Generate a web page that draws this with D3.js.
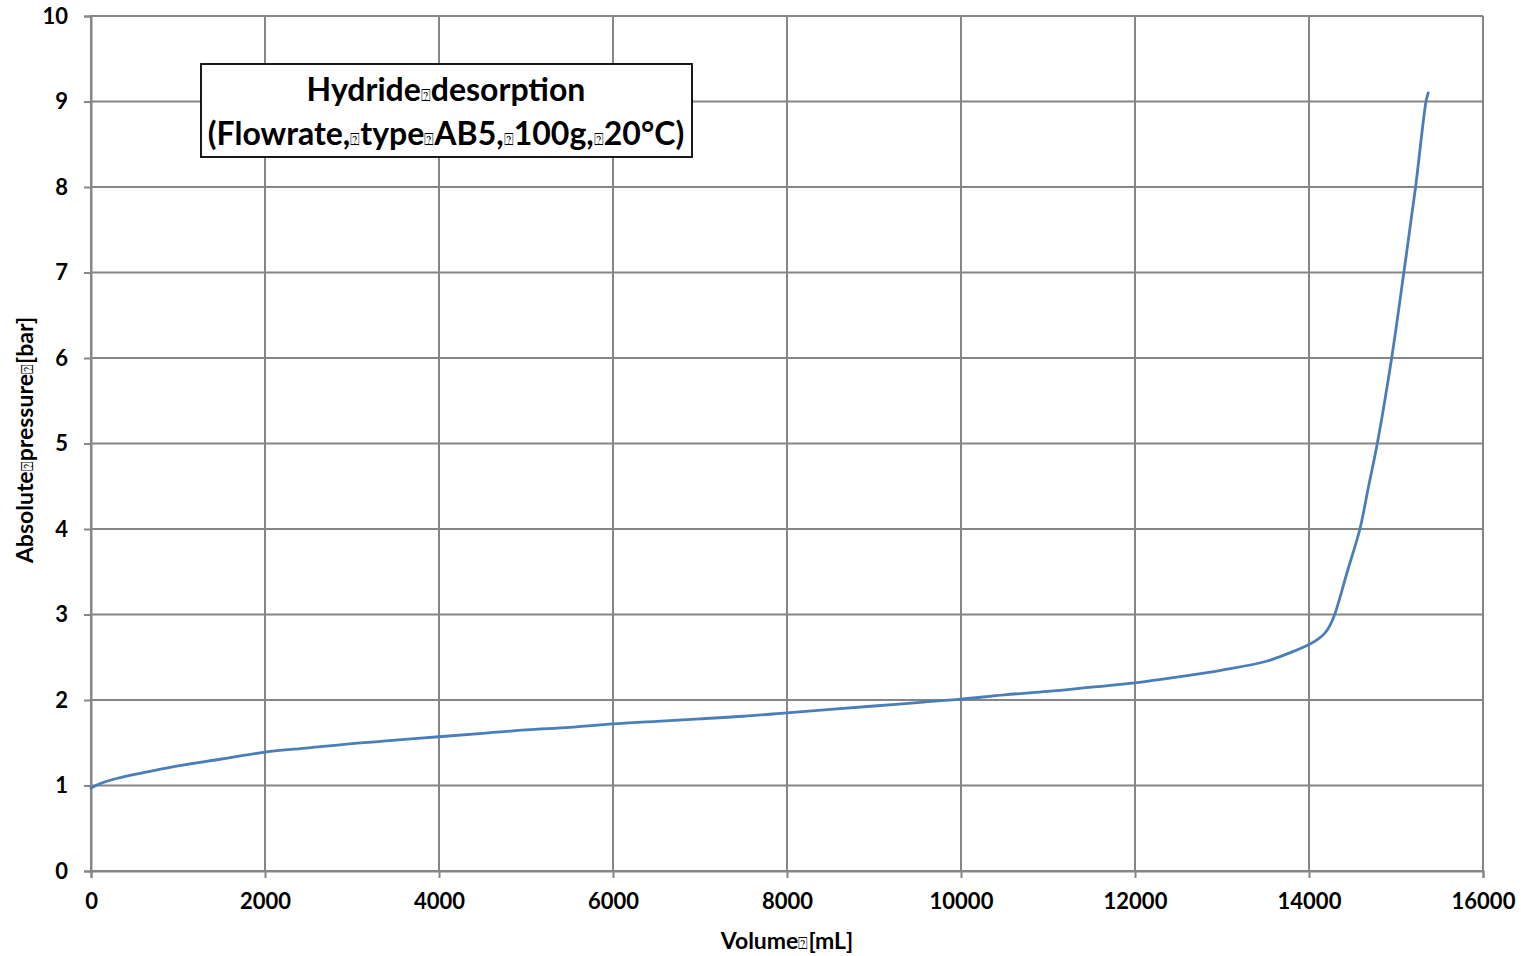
<!DOCTYPE html>
<html>
<head>
<meta charset="utf-8">
<script src="https://cdn.jsdelivr.net/npm/d3@7"></script>
<style>
  html, body { margin: 0; padding: 0; background: #fff; }
  svg { display: block; }
  text { font-family: Lato, "Open Sans", "DejaVu Sans", sans-serif; font-weight: bold; fill: #000; }
</style>
</head>
<body>
<svg id="chart" width="1521" height="956"></svg>
<script>
// Desorption curve: volume released [mL] vs absolute pressure [bar]
const volume = [0, 100, 250, 500, 750, 1000, 1500, 2000, 2500, 3000, 3500, 4000,
  4500, 5000, 5500, 6000, 6500, 7000, 7500, 8000, 8500, 9000, 9500, 10000, 10500, 11000,
  11500, 12000, 12500, 13000, 13500, 13800, 14000, 14100, 14180,
  14240, 14295, 14440, 14585, 14685, 14785, 14950, 15090, 15225, 15345, 15370];
const pressure = [0.97, 1.02, 1.07, 1.13, 1.18, 1.23, 1.31, 1.39, 1.44, 1.49, 1.53, 1.57,
  1.61, 1.65, 1.68, 1.72, 1.75, 1.78, 1.81, 1.85, 1.89, 1.93, 1.97, 2.01, 2.06, 2.10,
  2.15, 2.20, 2.27, 2.35, 2.45, 2.56, 2.65, 2.71, 2.78,
  2.87, 3.00, 3.50, 4.00, 4.50, 5.00, 6.00, 7.00, 8.00, 9.00, 9.10];

const xTicks = [0, 2000, 4000, 6000, 8000, 10000, 12000, 14000, 16000];
const yTicks = [0, 1, 2, 3, 4, 5, 6, 7, 8, 9, 10];

const titleLines = [
  ["Hydride", "⍰", "desorption"],
  ["(Flowrate,", "⍰", "type", "⍰", "AB5,", "⍰", "100g,", "⍰", "20°C)"]
];
const xTitle = ["Volume", "⍰", "[mL]"];
const yTitle = ["Absolute", "⍰", "pressure", "⍰", "[bar]"];

const svg = d3.select("#chart");
const plot = { left: 91, right: 1483, top: 16, bottom: 871 };

const x = d3.scaleLinear().domain([0, 16000]).range([plot.left, plot.right]);
const y = d3.scaleLinear().domain([0, 10]).range([plot.bottom, plot.top]);

const gridColor = "#868686";

// Gridlines
svg.append("g").selectAll("line").data(xTicks).join("line")
  .attr("x1", d => x(d)).attr("x2", d => x(d))
  .attr("y1", plot.top).attr("y2", plot.bottom)
  .attr("stroke", gridColor).attr("stroke-width", 2);
svg.append("g").selectAll("line").data(yTicks).join("line")
  .attr("x1", plot.left).attr("x2", plot.right)
  .attr("y1", d => y(d)).attr("y2", d => y(d))
  .attr("stroke", gridColor).attr("stroke-width", 2);

// Axes
const xAxis = svg.append("g").attr("transform", `translate(0,${plot.bottom})`)
  .call(d3.axisBottom(x).tickValues(xTicks).tickSize(7).tickPadding(15).tickFormat(d3.format("d")));
const yAxis = svg.append("g").attr("transform", `translate(${plot.left},0)`)
  .call(d3.axisLeft(y).tickValues(yTicks).tickSize(7).tickPadding(16).tickFormat(d3.format("d")));
[xAxis, yAxis].forEach(g => {
  g.select(".domain").attr("stroke", gridColor).attr("stroke-width", 2);
  g.selectAll(".tick line").attr("stroke", gridColor).attr("stroke-width", 2);
  g.selectAll(".tick text").style("font-size", "22px").style("font-weight", "bold")
    .style("font-family", "Lato, 'Open Sans', sans-serif").attr("fill", "#000");
});

// Data line
const pts = volume.map((v, i) => [v, pressure[i]]);
svg.append("path")
  .datum(pts)
  .attr("fill", "none")
  .attr("stroke", "#4a7ebb")
  .attr("stroke-width", 2.8)
  .attr("stroke-linejoin", "round")
  .attr("stroke-linecap", "round")
  .attr("d", d3.line().x(d => x(d[0])).y(d => y(d[1])).curve(d3.curveCatmullRom.alpha(0.5)));

// Text with the narrow boxed placeholder glyph between words
function addParts(textSel, parts, size, boxScale) {
  parts.forEach(p => {
    const t = textSel.append("tspan").text(p);
    if (p === "⍰") t.style("font-size", (size * boxScale) + "px").style("font-weight", "normal");
  });
}

// Title box
svg.append("rect")
  .attr("x", 201).attr("y", 64).attr("width", 491).attr("height", 93)
  .attr("fill", "#fff").attr("stroke", "#000").attr("stroke-width", 1.8);
titleLines.forEach((line, i) => {
  const t = svg.append("text")
    .attr("x", 446).attr("y", 101 + i * 44)
    .attr("text-anchor", "middle").style("font-size", "32px");
  addParts(t, line, 32, 0.5);
});

// Axis titles
const xt = svg.append("text").attr("x", 787).attr("y", 949)
  .attr("text-anchor", "middle").style("font-size", "23px");
addParts(xt, xTitle, 23, 0.7);
const yt = svg.append("text")
  .attr("transform", "translate(33,440) rotate(-90)")
  .attr("text-anchor", "middle").style("font-size", "23px");
addParts(yt, yTitle, 23, 0.7);
</script>
</body>
</html>
